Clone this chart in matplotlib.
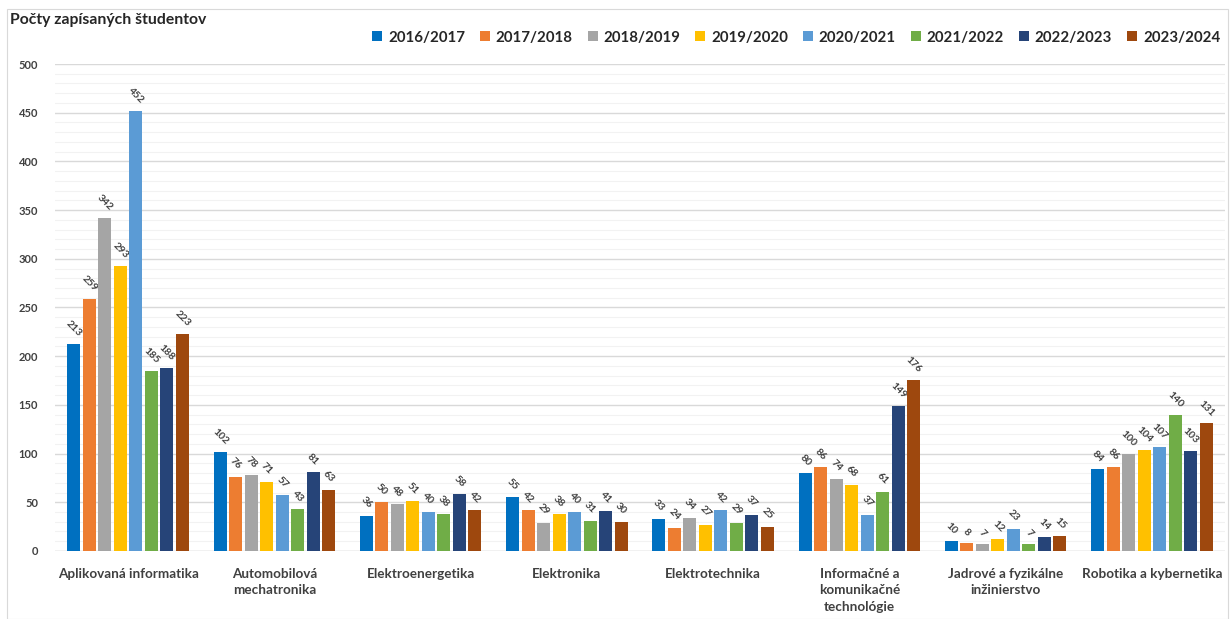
import matplotlib
matplotlib.use("Agg")
import matplotlib.pyplot as plt
from matplotlib.patches import Rectangle
import numpy as np

plt.rcParams['font.family'] = ['Lato', 'DejaVu Sans']

title = "Počty zapísaných študentov"
categories = [
    "Aplikovaná informatika",
    "Automobilová\nmechatronika",
    "Elektroenergetika",
    "Elektronika",
    "Elektrotechnika",
    "Informačné a\nkomunikačné\ntechnológie",
    "Jadrové a fyzikálne\ninžinierstvo",
    "Robotika a kybernetika",
]
years = ["2016/2017", "2017/2018", "2018/2019", "2019/2020",
         "2020/2021", "2021/2022", "2022/2023", "2023/2024"]
v_2016 = [213, 102, 36, 55, 33, 80, 10, 84]
v_2017 = [259, 76, 50, 42, 24, 86, 8, 86]
v_2018 = [342, 78, 48, 29, 34, 74, 7, 100]
v_2019 = [293, 71, 51, 38, 27, 68, 12, 104]
v_2020 = [452, 57, 40, 40, 42, 37, 23, 107]
v_2021 = [185, 43, 38, 31, 29, 61, 7, 140]
v_2022 = [188, 81, 58, 41, 37, 149, 14, 103]
v_2023 = [223, 63, 42, 30, 25, 176, 15, 131]
series = [v_2016, v_2017, v_2018, v_2019, v_2020, v_2021, v_2022, v_2023]
colors = ["#0070C0", "#ED7D31", "#A5A5A5", "#FFC000",
          "#5B9BD5", "#70AD47", "#264478", "#9E480E"]
yticks = [0, 50, 100, 150, 200, 250, 300, 350, 400, 450, 500]

txt = "#404040"
fig = plt.figure(figsize=(12.3, 6.19), dpi=100)
ax = fig.add_axes([0.0447, 0.1099, 0.9513, 0.7867])

x = np.arange(len(categories))
slot = 0.106
width = 0.089
n = len(series)
for i, (vals, c, yr) in enumerate(zip(series, colors, years)):
    xs = x + (i - (n - 1) / 2) * slot
    bars = ax.bar(xs, vals, width=width, color=c, label=yr, zorder=3)
    for b, v in zip(bars, vals):
        ax.annotate(str(v), (b.get_x() + b.get_width() / 2, v),
                    xytext=(0, 4), textcoords="offset points",
                    ha="center", va="bottom", rotation=-45,
                    fontsize=7.5, color=txt, fontweight="bold")

ax.set_xlim(-0.5, len(categories) - 0.5)
ax.set_ylim(0, 500)
ax.set_yticks(yticks)
ax.set_yticklabels([str(t) for t in yticks], fontsize=8, color=txt, fontweight="bold")
ax.set_yticks(np.arange(0, 501, 10), minor=True)
ax.grid(axis="y", which="major", color="#d9d9d9", linewidth=1.0, zorder=0)
ax.grid(axis="y", which="minor", color="#f2f2f2", linewidth=0.8, zorder=0)
ax.tick_params(axis="y", which="both", length=0, pad=12)
ax.set_xticks(x)
ax.set_xticklabels(categories, fontsize=9.7, color=txt, fontweight="bold",
                   linespacing=1.45, va="top")
ax.tick_params(axis="x", length=0, pad=12)
for s in ax.spines.values():
    s.set_visible(False)
ax.axhline(0, color="#d9d9d9", linewidth=1.0, zorder=2)

fig.text(0.008, 0.967, title, fontsize=11.3, fontweight="bold", color="#262626",
         ha="left", va="center")

leg = fig.legend(loc="center right", bbox_to_anchor=(1.003, 0.939), ncol=8,
                 frameon=False, handlelength=0.65, handleheight=0.65,
                 handletextpad=0.4, columnspacing=1.0,
                 prop={"size": 10.8, "weight": "bold"})
for t in leg.get_texts():
    t.set_color("#262626")

fig.patches.append(Rectangle((0.006, 0.0), 0.992, 0.985, transform=fig.transFigure,
                             fill=False, edgecolor="#d9d9d9", linewidth=0.8))

fig.savefig("out.png", dpi=100, facecolor="white")
